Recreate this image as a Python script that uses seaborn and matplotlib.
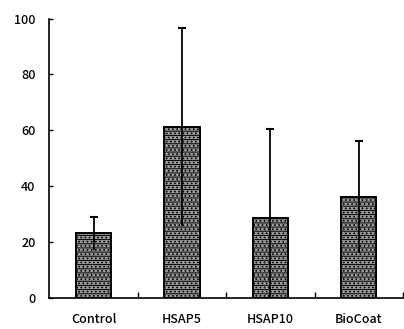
import matplotlib
matplotlib.use("Agg")
import matplotlib.pyplot as plt
import seaborn as sns
import pandas as pd
from matplotlib.ticker import FixedLocator

groups = ["Control", "HSAP5", "HSAP10", "BioCoat"]
means = [23.0, 61.0, 28.5, 36.0]
errors = [6.0, 35.5, 32.0, 20.0]
yticks = [0, 20, 40, 60, 80, 100]

sns.set_theme(style="white")
plt.rcParams["font.family"] = ["Noto Sans CJK JP", "DejaVu Sans"]
plt.rcParams["hatch.color"] = "#e8e8e8"
plt.rcParams["hatch.linewidth"] = 0.7

df = pd.DataFrame({"group": groups, "value": means})

fig = plt.figure(figsize=(4.04, 3.29), dpi=100)
ax = fig.add_axes([0.1225, 0.0957, 0.875, 0.848])

sns.barplot(data=df, x="group", y="value", order=groups, color="#9a9a9a",
            width=0.4, errorbar=None, edgecolor="black", linewidth=1.4,
            saturation=1, ax=ax)
for p in ax.patches:
    p.set_hatch("----....")

xs = list(range(len(groups)))
ax.errorbar(xs, means, yerr=errors, fmt="none", ecolor="black",
            elinewidth=1.3, capsize=0, zorder=5)
ax.plot(xs, [m + e for m, e in zip(means, errors)], linestyle="none",
        marker="_", markersize=6, mew=1.5, color="black", zorder=5)

ax.set_xlim(-0.5, len(groups) - 0.5)
ax.set_ylim(0, 100)
ax.set_yticks(yticks)
ax.set_yticklabels([str(t) for t in yticks])
ax.xaxis.set_minor_locator(FixedLocator([i + 0.5 for i in xs]))
ax.tick_params(axis="x", which="major", length=0, pad=11, labelsize=9)
ax.tick_params(axis="x", which="minor", direction="in", length=4, width=1,
               color="black", bottom=True)
ax.tick_params(axis="y", which="major", direction="in", length=3, width=1,
               color="black", left=True, pad=10, labelsize=9)
for lab in ax.get_xticklabels() + ax.get_yticklabels():
    lab.set_fontweight("medium")
    lab.set_color("black")

sns.despine(ax=ax)
for s in ("left", "bottom"):
    ax.spines[s].set_color("black")
    ax.spines[s].set_linewidth(1.2)
ax.set_xlabel("")
ax.set_ylabel("")

fig.savefig("out.png", dpi=100)
